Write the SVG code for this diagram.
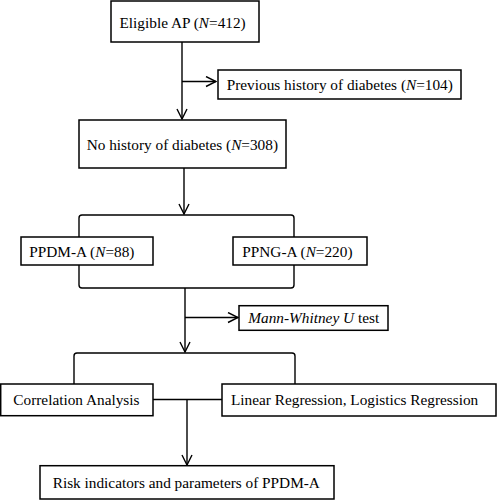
<svg xmlns="http://www.w3.org/2000/svg" width="497" height="500" viewBox="0 0 497 500">
<style>
.box{fill:#fff;stroke:#000;stroke-width:1.5}
.t{font-family:"Liberation Serif","Times New Roman",serif;font-size:15.3px;fill:#000}
.c{fill:none;stroke:#000;stroke-width:1.4}
</style>
<defs>
<marker id="ar" viewBox="0 0 12 12" refX="11" refY="6" markerWidth="12" markerHeight="12" markerUnits="userSpaceOnUse" orient="auto">
<path d="M1,1 L11,6 L1,11" fill="none" stroke="#000" stroke-width="1.4"/>
</marker>
</defs>
<rect width="497" height="500" fill="#fff"/>
<g id="connectors">
<path class="c" d="M182,42 V119" marker-end="url(#ar)"/>
<path class="c" d="M182,81.5 H216" marker-end="url(#ar)"/>
<path class="c" d="M184,168 V214" marker-end="url(#ar)"/>
<path class="c" d="M79,237 V218 Q79,215 82,215 H291 Q294,215 294,218 V237"/>
<path class="c" d="M79,265 V285 Q79,288 82,288 H291 Q294,288 294,285 V265"/>
<path class="c" d="M185,288 V352" marker-end="url(#ar)"/>
<path class="c" d="M185,317.5 H238" marker-end="url(#ar)"/>
<path class="c" d="M74,384 V356 Q74,353 77,353 H292 Q295,353 295,356 V384"/>
<path class="c" d="M153,399.5 H222"/>
<path class="c" d="M187,399.5 V465" marker-end="url(#ar)"/>
</g>
<g id="n1"><rect class="box" x="111" y="1" width="148" height="41"/><text class="t" x="119.5" y="28">Eligible AP (<tspan font-style="italic">N</tspan>=412)</text></g>
<g id="n2"><rect class="box" x="218" y="70" width="243" height="29"/><text class="t" x="226.7" y="90">Previous history of diabetes (<tspan font-style="italic">N</tspan>=104)</text></g>
<g id="n3"><rect class="box" x="79" y="120" width="207" height="48"/><text class="t" x="86.7" y="150">No history of diabetes (<tspan font-style="italic">N</tspan>=308)</text></g>
<g id="n4"><rect class="box" x="21" y="237" width="132" height="28"/><text class="t" x="29.3" y="257">PPDM-A (<tspan font-style="italic">N</tspan>=88)</text></g>
<g id="n5"><rect class="box" x="233" y="237" width="134" height="28"/><text class="t" x="242.3" y="257">PPNG-A (<tspan font-style="italic">N</tspan>=220)</text></g>
<g id="n6"><rect class="box" x="239" y="305.7" width="149" height="24.6"/><text class="t" x="248.3" y="323"><tspan font-style="italic">Mann-Whitney U</tspan> test</text></g>
<g id="n7"><rect class="box" x="0.7" y="384" width="152.3" height="31.7"/><text class="t" x="13.3" y="405">Correlation Analysis</text></g>
<g id="n8"><rect class="box" x="222" y="384" width="274" height="32"/><text class="t" x="231" y="405">Linear Regression, Logistics Regression</text></g>
<g id="n9"><rect class="box" x="40" y="465.7" width="294" height="33.3"/><text class="t" x="52.7" y="488.3">Risk indicators and parameters of PPDM-A</text></g>
</svg>
